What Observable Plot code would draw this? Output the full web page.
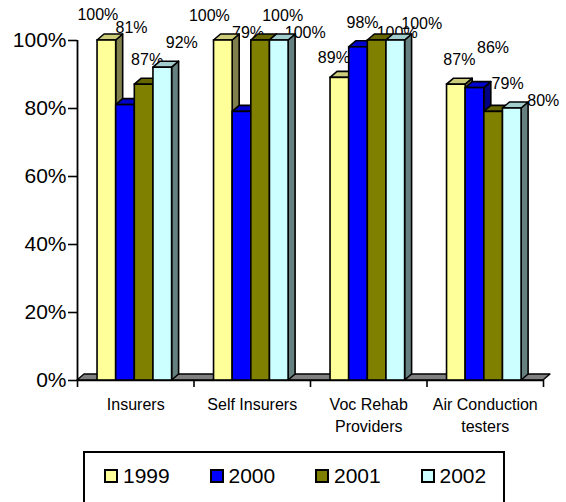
<!DOCTYPE html>
<html>
<head>
<meta charset="utf-8">
<script src="https://cdn.jsdelivr.net/npm/d3@7"></script>
<script src="https://cdn.jsdelivr.net/npm/@observablehq/plot@0.6"></script>
<style>
  html, body { margin: 0; padding: 0; background: #fff; overflow: hidden; }
  #chart { position: relative; width: 566px; height: 502px; font-family: "Liberation Sans", Arial, sans-serif; }
  #chart svg { display: block; }
  g[aria-label^="y-axis"] line, g[aria-label^="y-axis"] path,
  g[aria-label^="x-axis"] line, g[aria-label^="x-axis"] path { stroke-width: 1.6; }
  .legend { position: absolute; left: 83px; top: 451px; width: 422px; height: 58px;
            border: 2px solid #000; box-sizing: border-box; background: #fff; }
  .legend .item { position: absolute; top: 16px; height: 14px; display: flex; align-items: center;
                  font-size: 21px; color: #000; white-space: nowrap; }
  .legend .swatch { width: 14px; height: 14px; box-sizing: border-box; border: 2px solid #000; margin-right: 5px; }
</style>
</head>
<body>
<div id="chart"></div>
<script>
// Survey categories and yearly percentages
const categories = ["Insurers", "Self Insurers", "Voc Rehab\nProviders", "Air Conduction\ntesters"];
const years = ["1999", "2000", "2001", "2002"];
const pct1999 = [100, 100, 89, 87];
const pct2000 = [81, 79, 98, 86];
const pct2001 = [87, 100, 100, 79];
const pct2002 = [92, 100, 100, 80];
const yTicks = [0, 20, 40, 60, 80, 100];

const seriesValues = [pct1999, pct2000, pct2001, pct2002];

// Styling
const frontColors = ["#FFFF99", "#0000FF", "#808000", "#CCFFFF"];
const shade = (c, k) => { const r = d3.rgb(c); return d3.rgb(r.r * k, r.g * k, r.b * k).formatHex(); };
const topColors = frontColors.map(c => shade(c, 0.8));
const sideColors = frontColors.map(c => shade(c, 0.5));
const FONT = '"Liberation Sans", Arial, sans-serif';
const DEPTH_X = 7, DEPTH_Y = 6;       // oblique depth of the pseudo-3D columns, in pixels
const GROUP_INSET = 0.172;            // gap before the first column of each category (category units)
const BAR_W = 0.16;                   // column width (category units)

// Hand-placed label offsets [dx, dy] per category and year, relative to the column top
const labelNudge = [
  [[-9, -1], [6, -52], [3, 0], [19, 0]],
  [[-14, 0], [6, -54], [22, 0], [26, 17]],
  [[-6, 5], [4, 1], [20, 17], [26, 8]],
  [[3, 0], [18, -15], [14, -3], [31, 17]]
];

// One row per column, ordered left to right
const bars = categories.flatMap((cat, i) => years.map((yr, j) => ({
  cat: i, series: j, year: yr, value: seriesValues[j][i],
  x1: i + GROUP_INSET + j * BAR_W,
  x2: i + GROUP_INSET + (j + 1) * BAR_W
})));

// Grey floor under the columns
function floor(index, {x, y}) {
  const g = d3.create("svg:g");
  const xa = x(0), xb = x(categories.length), y0 = y(0);
  g.append("path")
    .attr("d", `M${xa},${y0}L${xa + DEPTH_X},${y0 - DEPTH_Y}L${xb + DEPTH_X},${y0 - DEPTH_Y}L${xb},${y0}Z`)
    .attr("fill", "#808080").attr("stroke", "#000").attr("stroke-width", 1.4).attr("stroke-linejoin", "round");
  return g.node();
}

// Side and top faces of each column
function faces(index, {x, y}) {
  const g = d3.create("svg:g");
  const y0 = y(0);
  for (const b of bars) {
    const a = x(b.x1), c = x(b.x2), t = y(b.value);
    g.append("path")
      .attr("d", `M${c},${t}L${c + DEPTH_X},${t - DEPTH_Y}L${c + DEPTH_X},${y0 - DEPTH_Y}L${c},${y0}Z`)
      .attr("fill", sideColors[b.series]).attr("stroke", "#000").attr("stroke-width", 1.6).attr("stroke-linejoin", "round");
    g.append("path")
      .attr("d", `M${a},${t}L${a + DEPTH_X},${t - DEPTH_Y}L${c + DEPTH_X},${t - DEPTH_Y}L${c},${t}Z`)
      .attr("fill", topColors[b.series]).attr("stroke", "#000").attr("stroke-width", 1.6).attr("stroke-linejoin", "round");
  }
  return g.node();
}

const valueLabels = bars.map(b => {
  const [ndx, ndy] = labelNudge[b.cat][b.series];
  return Plot.text([b], {
    x: d => (d.x1 + d.x2) / 2, y: "value", text: d => d.value + "%",
    dx: ndx, dy: -25 + ndy, fontSize: 16, fill: "#000", fontFamily: FONT
  });
});

const chart = Plot.plot({
  width: 566, height: 445,
  marginLeft: 77, marginRight: 23, marginTop: 40, marginBottom: 65,
  style: { fontFamily: FONT, fontSize: "21px", background: "#fff", color: "#000", overflow: "visible" },
  x: { domain: [0, categories.length], ticks: [0, 1, 2, 3, 4], tickSize: 7, tickFormat: () => "", label: null },
  y: { domain: [0, 100], ticks: yTicks, tickSize: 9, tickPadding: 2, tickFormat: d => d + "%", label: null },
  color: { domain: years, range: frontColors },
  marks: [
    floor,
    Plot.ruleY([0], { x1: 0, x2: categories.length, stroke: "#000", strokeWidth: 1.6 }),
    Plot.ruleX([0], { y1: 0, y2: 100, stroke: "#000", strokeWidth: 1.8 }),
    ...valueLabels,
    faces,
    Plot.rect(bars, { x1: "x1", x2: "x2", y1: 0, y2: "value", fill: "year", stroke: "#000", strokeWidth: 1.6 }),
    Plot.text(categories, {
      x: (d, i) => i + 0.5, y: () => 0, text: d => d,
      lineAnchor: "top", dy: 13.6, fontSize: 16, lineHeight: 1.375, fill: "#000", fontFamily: FONT
    })
  ]
});

const root = document.getElementById("chart");
root.appendChild(chart);

// Legend box below the plot
const legend = d3.select(root).append("div").attr("class", "legend");
years.forEach((yr, j) => {
  const item = legend.append("div").attr("class", "item").style("left", (19 + 105.5 * j) + "px");
  item.append("div").attr("class", "swatch").style("background", frontColors[j]);
  item.append("span").text(yr);
});
</script>
</body>
</html>
